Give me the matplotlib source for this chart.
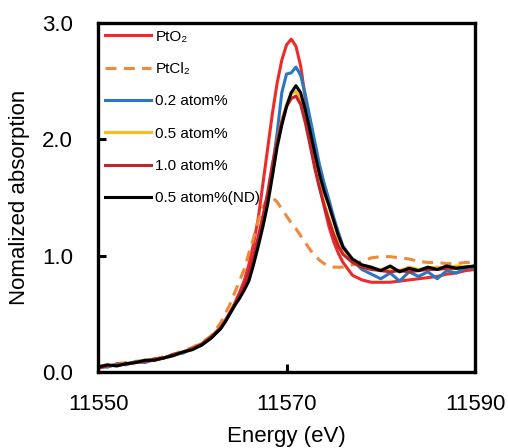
import numpy as np
import matplotlib
matplotlib.use('Agg')
import matplotlib.pyplot as plt

plt.rcParams['font.family'] = ['Liberation Sans', 'DejaVu Sans']

# energy grid: 1 eV steps away from the edge, 0.5 eV steps around the white line
energy = np.concatenate([np.arange(11550, 11564, 1.0),
                         np.arange(11563.5, 11576.5, 0.5),
                         np.arange(11577, 11591, 1.0)])

pto2 = [0.04, 0.05, 0.06, 0.07, 0.08, 0.09, 0.10, 0.12, 0.14, 0.17, 0.20, 0.24, 0.30, 0.38,
        0.44, 0.51, 0.59, 0.68, 0.78, 0.92, 1.10, 1.32, 1.62, 1.92, 2.22, 2.48, 2.68, 2.81,
        2.86, 2.80, 2.63, 2.35, 2.05, 1.80, 1.60, 1.42, 1.25, 1.12, 1.02, 0.94,
        0.83, 0.79, 0.77, 0.77, 0.77, 0.78, 0.79, 0.80, 0.81, 0.82, 0.84, 0.85, 0.87, 0.88]

ptcl2 = [0.05, 0.06, 0.07, 0.08, 0.09, 0.10, 0.11, 0.13, 0.15, 0.18, 0.21, 0.25, 0.31, 0.42,
         0.50, 0.58, 0.68, 0.78, 0.88, 1.02, 1.15, 1.30, 1.42, 1.49, 1.50, 1.46, 1.40, 1.34,
         1.28, 1.23, 1.17, 1.11, 1.05, 1.00, 0.96, 0.93, 0.91, 0.90, 0.90, 0.90,
         0.92, 0.95, 0.98, 0.99, 0.99, 0.98, 0.97, 0.95, 0.94, 0.94, 0.93, 0.93, 0.94, 0.94]

at02 = [0.05, 0.04, 0.07, 0.06, 0.09, 0.08, 0.11, 0.12, 0.15, 0.16, 0.20, 0.23, 0.29, 0.37,
        0.43, 0.50, 0.57, 0.64, 0.72, 0.82, 0.96, 1.12, 1.30, 1.50, 1.76, 2.05, 2.40, 2.56,
        2.57, 2.62, 2.55, 2.38, 2.18, 1.98, 1.78, 1.62, 1.48, 1.33, 1.20, 1.08,
        0.96, 0.88, 0.84, 0.80, 0.85, 0.78, 0.86, 0.82, 0.86, 0.80, 0.87, 0.85, 0.89, 0.90]

at05 = [0.04, 0.05, 0.06, 0.07, 0.08, 0.10, 0.11, 0.12, 0.14, 0.17, 0.20, 0.24, 0.30, 0.38,
        0.44, 0.51, 0.58, 0.65, 0.73, 0.83, 0.97, 1.14, 1.32, 1.52, 1.76, 1.98, 2.16, 2.30,
        2.39, 2.41, 2.34, 2.18, 1.98, 1.78, 1.60, 1.45, 1.32, 1.20, 1.10, 1.02,
        0.95, 0.91, 0.89, 0.88, 0.89, 0.87, 0.90, 0.88, 0.89, 0.90, 0.89, 0.91, 0.90, 0.91]

at10 = [0.03, 0.05, 0.06, 0.07, 0.08, 0.09, 0.11, 0.12, 0.15, 0.17, 0.20, 0.24, 0.30, 0.38,
        0.44, 0.51, 0.58, 0.66, 0.74, 0.85, 0.99, 1.16, 1.34, 1.54, 1.78, 1.98, 2.15, 2.28,
        2.35, 2.37, 2.30, 2.14, 1.95, 1.75, 1.58, 1.43, 1.30, 1.18, 1.08, 1.01,
        0.94, 0.90, 0.88, 0.87, 0.86, 0.87, 0.86, 0.87, 0.88, 0.88, 0.89, 0.89, 0.90, 0.91]

at05_nd = [0.04, 0.06, 0.05, 0.07, 0.08, 0.10, 0.10, 0.12, 0.14, 0.17, 0.19, 0.23, 0.29, 0.37,
           0.43, 0.50, 0.57, 0.63, 0.70, 0.78, 0.92, 1.08, 1.25, 1.44, 1.68, 1.93, 2.12, 2.28,
           2.40, 2.46, 2.40, 2.25, 2.07, 1.88, 1.70, 1.55, 1.43, 1.30, 1.17, 1.07,
           0.97, 0.92, 0.90, 0.87, 0.91, 0.86, 0.89, 0.87, 0.90, 0.88, 0.91, 0.89, 0.90, 0.91]

fig = plt.figure(figsize=(5.08, 4.48), dpi=100)
ax = fig.add_axes([0.193, 0.170, 0.742, 0.779])

lw = 2.2
ax.plot(energy, pto2, color='#ee2a2a', lw=lw, label='PtO₂')
ax.plot(energy, ptcl2, color='#ef8a3c', lw=lw, ls=(0, (3.6, 2.4)), label='PtCl₂')
ax.plot(energy, at02, color='#2a78c0', lw=lw, label='0.2 atom%')
ax.plot(energy, at05, color='#fbbd1c', lw=lw, label='0.5 atom%')
ax.plot(energy, at10, color='#c4232b', lw=lw, label='1.0 atom%')
ax.plot(energy, at05_nd, color='black', lw=lw, label='0.5 atom%(ND)')

ax.set_xlim(11550, 11590)
ax.set_ylim(0, 3.0)
ax.set_xticks([11550, 11570, 11590])
ax.set_yticks([0, 1, 2, 3])
ax.set_yticklabels(['0.0', '1.0', '2.0', '3.0'])
ax.tick_params(direction='in', length=6, width=2.2, labelsize=16)
ax.tick_params(axis='y', pad=18)
ax.tick_params(axis='x', pad=16)
for s in ax.spines.values():
    s.set_linewidth(2.4)

ax.set_xlabel('Energy (eV)', fontsize=16, labelpad=8)
ax.set_ylabel('Nomalized absorption', fontsize=16, labelpad=9)

ax.legend(loc='upper left', bbox_to_anchor=(0.0, 1.0), frameon=False, fontsize=11,
          handlelength=3.0, handletextpad=0.3, labelspacing=1.2, borderaxespad=0.3,
          borderpad=0.15)

fig.savefig('out.png', dpi=100)
